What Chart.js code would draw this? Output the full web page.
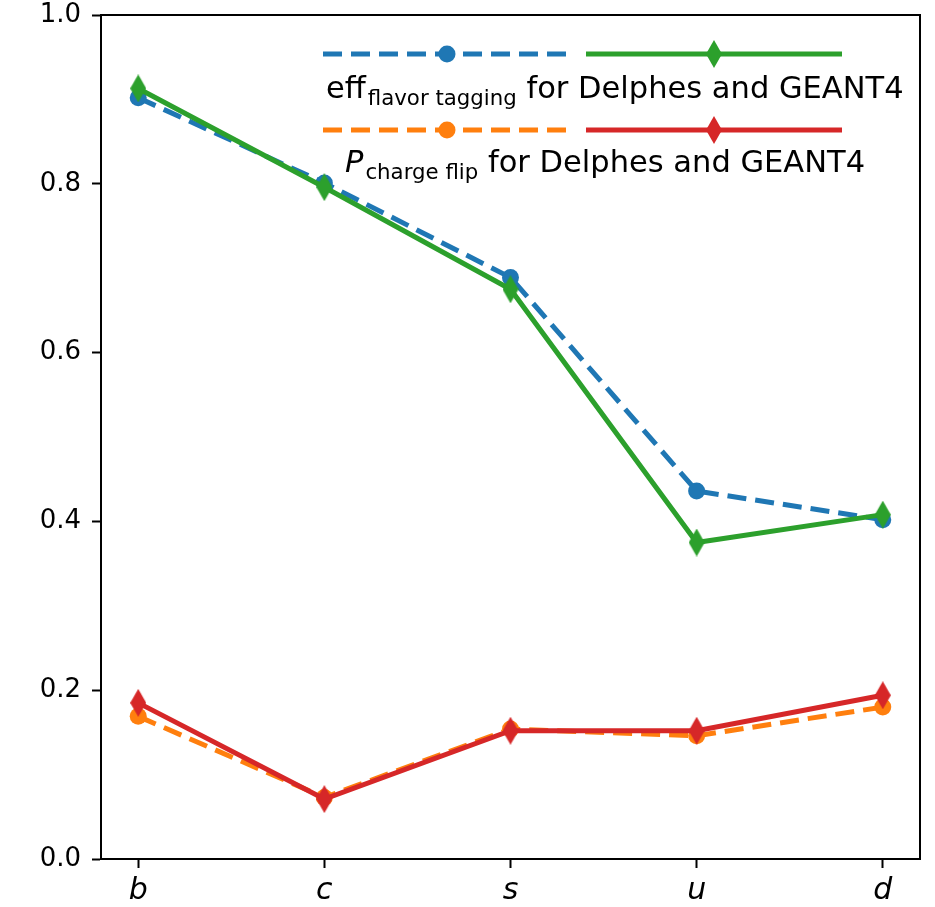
<!DOCTYPE html>
<html>
<head>
<meta charset="utf-8">
<script src="https://cdn.jsdelivr.net/npm/chart.js@4.4.1/dist/chart.umd.min.js"></script>
<style>
  html, body { margin: 0; padding: 0; background: #fff; }
  #wrap { width: 935px; height: 907px; position: relative; }
</style>
</head>
<body>
<div id="wrap"><canvas id="c" width="935" height="907"></canvas></div>
<script>
// quark flavours along x
const flavors = ['b', 'c', 's', 'u', 'd'];

// flavour-tagging efficiency
const effDelphes = [0.902, 0.801, 0.689, 0.436, 0.402];
const effGeant4  = [0.913, 0.796, 0.675, 0.375, 0.408];

// charge-flip probability
const flipDelphes = [0.169, 0.073, 0.154, 0.146, 0.180];
const flipGeant4  = [0.185, 0.071, 0.152, 0.152, 0.194];

const yTicks = [0.0, 0.2, 0.4, 0.6, 0.8, 1.0];

const BLUE = '#1f77b4', ORANGE = '#ff7f0e', GREEN = '#2ca02c', RED = '#d62728';
const LW = 5;
const DASH = [19, 9];

// thin diamond marker (matplotlib 'd')
function thinDiamond(color) {
  const w = 16, h = 28;
  const cv = document.createElement('canvas');
  cv.width = w; cv.height = h;
  const g = cv.getContext('2d');
  g.fillStyle = color;
  g.beginPath();
  g.moveTo(w / 2, 0);
  g.lineTo(w, h / 2);
  g.lineTo(w / 2, h);
  g.lineTo(0, h / 2);
  g.closePath();
  g.fill();
  return cv;
}
const diaGreen = thinDiamond(GREEN);
const diaRed = thinDiamond(RED);

const pts = (arr) => arr.map((v, i) => ({ x: i, y: v }));

function dashedSet(label, data, color, order) {
  return {
    label, data: pts(data), order,
    borderColor: color, backgroundColor: color,
    borderWidth: LW, borderDash: DASH,
    pointStyle: 'circle', pointRadius: 8.5, pointBorderWidth: 0,
    pointBackgroundColor: color, tension: 0
  };
}
function solidSet(label, data, color, img, order) {
  return {
    label, data: pts(data), order,
    borderColor: color, backgroundColor: color,
    borderWidth: LW,
    pointStyle: img, pointRadius: 10,
    tension: 0
  };
}

// frame on all four sides
const frame = {
  id: 'frame',
  afterDatasetsDraw(chart) {
    const { ctx, chartArea: a } = chart;
    ctx.save();
    ctx.strokeStyle = '#000';
    ctx.lineWidth = 2;
    ctx.strokeRect(a.left, a.top, a.right - a.left, a.bottom - a.top);
    ctx.restore();
  }
};

// two-row legend: line samples above, text below
const legendBox = {
  id: 'legendBox',
  afterDraw(chart) {
    const ctx = chart.ctx;
    const rows = [
      { y: 54, dash: BLUE, solid: GREEN, dia: diaGreen,
        main: 'eff', mainItalic: false, sub: 'flavor tagging', tx: 326, ty: 98 },
      { y: 130, dash: ORANGE, solid: RED, dia: diaRed,
        main: 'P', mainItalic: true, sub: 'charge flip', tx: 345, ty: 172 }
    ];
    ctx.save();
    for (const r of rows) {
      ctx.lineWidth = LW;
      ctx.strokeStyle = r.dash;
      ctx.setLineDash(DASH);
      ctx.beginPath(); ctx.moveTo(323, r.y); ctx.lineTo(570, r.y); ctx.stroke();
      ctx.setLineDash([]);
      ctx.fillStyle = r.dash;
      ctx.beginPath(); ctx.arc(447, r.y, 8.5, 0, Math.PI * 2); ctx.fill();

      ctx.strokeStyle = r.solid;
      ctx.beginPath(); ctx.moveTo(586, r.y); ctx.lineTo(842, r.y); ctx.stroke();
      ctx.drawImage(r.dia, 714 - 8, r.y - 14);

      ctx.fillStyle = '#000';
      ctx.textBaseline = 'alphabetic';
      ctx.textAlign = 'left';
      let x = r.tx;
      ctx.font = (r.mainItalic ? 'italic ' : '') + '30.5px "DejaVu Sans"';
      ctx.fillText(r.main, x, r.ty);
      x += ctx.measureText(r.main).width + 2;
      ctx.font = '21.3px "DejaVu Sans"';
      ctx.fillText(r.sub, x, r.ty + 7);
      x += ctx.measureText(r.sub).width;
      ctx.font = '30.5px "DejaVu Sans"';
      ctx.fillText(' for Delphes and GEANT4', x, r.ty);
    }
    ctx.restore();
  }
};

new Chart(document.getElementById('c'), {
  type: 'line',
  data: {
    datasets: [
      dashedSet('eff Delphes', effDelphes, BLUE, 3),
      solidSet('eff GEANT4', effGeant4, GREEN, diaGreen, 1),
      dashedSet('P Delphes', flipDelphes, ORANGE, 2),
      solidSet('P GEANT4', flipGeant4, RED, diaRed, 0)
    ]
  },
  options: {
    responsive: false,
    animation: false,
    events: [],
    layout: { padding: { top: 14, right: 13, left: 0, bottom: 0 } },
    plugins: { legend: { display: false }, tooltip: { enabled: false } },
    scales: {
      x: {
        type: 'linear', min: -0.2, max: 4.2,
        afterBuildTicks: (s) => { s.ticks = flavors.map((_, i) => ({ value: i })); },
        afterFit: (s) => { s.height = 48; s.paddingLeft = 0; s.paddingRight = 0; },
        grid: { drawOnChartArea: false, drawTicks: true, tickLength: 9, tickWidth: 2, tickColor: '#000' },
        border: { display: true, color: '#000', width: 2 },
        ticks: {
          color: '#000', padding: 5, maxRotation: 0,
          font: { family: 'DejaVu Sans', size: 30, style: 'italic' },
          callback: (v) => flavors[v] ?? ''
        }
      },
      y: {
        min: 0, max: 1,
        afterBuildTicks: (s) => { s.ticks = yTicks.map(v => ({ value: v })); },
        afterFit: (s) => { s.width = 101; s.paddingTop = 0; s.paddingBottom = 0; },
        grid: { drawOnChartArea: false, drawTicks: true, tickLength: 9, tickWidth: 2, tickColor: '#000' },
        border: { display: true, color: '#000', width: 2 },
        ticks: {
          color: '#000', padding: 11,
          font: { family: 'DejaVu Sans', size: 26 },
          callback: (v) => v.toFixed(1)
        }
      }
    }
  },
  plugins: [frame, legendBox]
});
</script>
</body>
</html>
